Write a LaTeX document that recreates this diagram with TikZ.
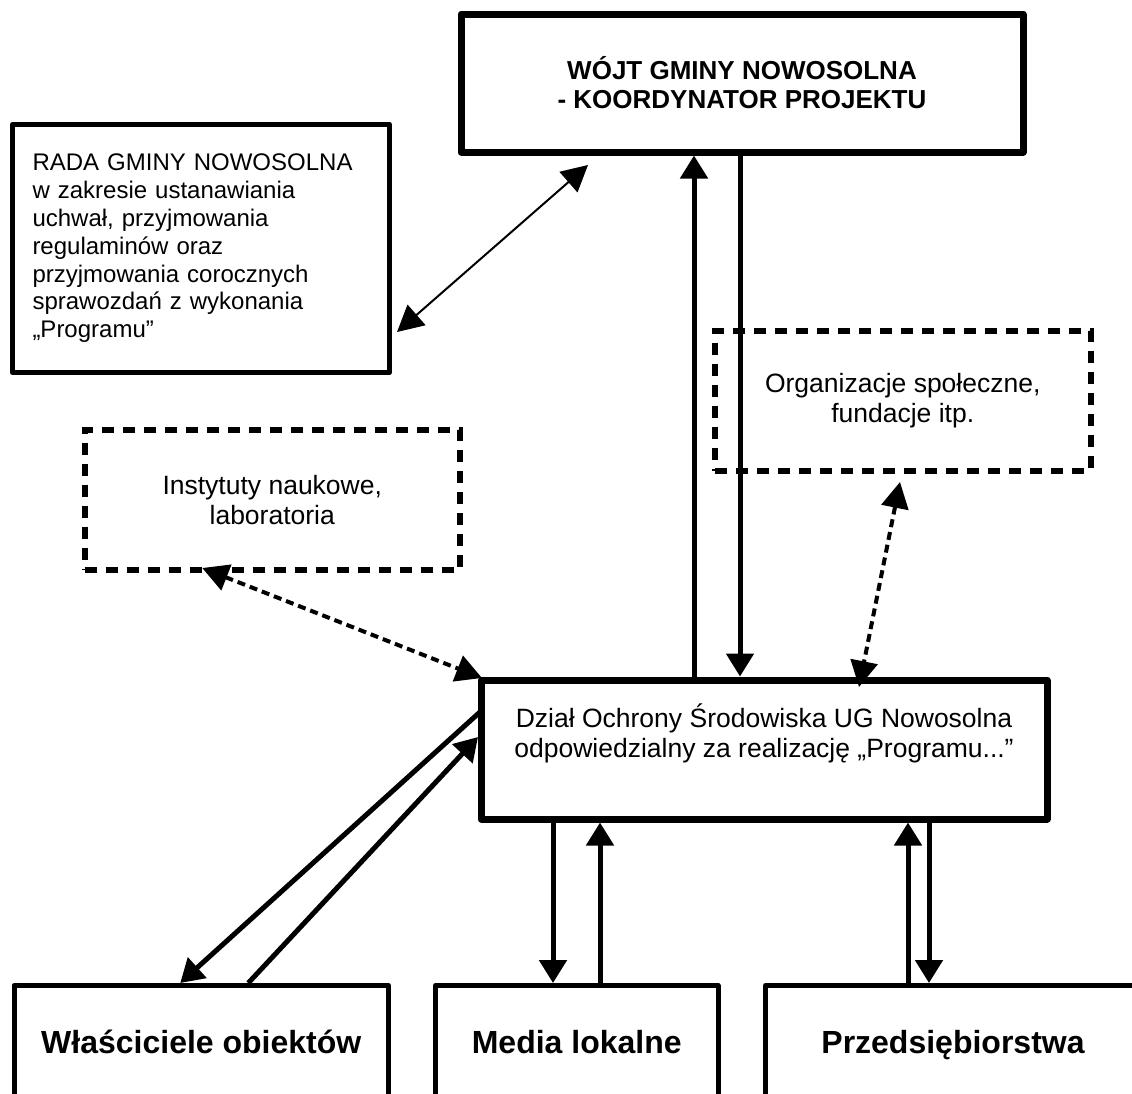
\documentclass[tikz,border=0pt]{standalone}
\usepackage{fontspec}
\setmainfont{Liberation Sans}
\usetikzlibrary{arrows.meta,calc}
\newcommand{\fRada}{\fontsize{24}{27.8}\selectfont}
\newcommand{\fNorm}{\fontsize{26.5}{30}\selectfont}
\newcommand{\fWojt}{\fontsize{26}{29}\selectfont\bfseries}
\newcommand{\fBot}{\fontsize{32}{37}\selectfont\bfseries}
\begin{document}
\begin{tikzpicture}[x=1pt,y=-1pt,
  heavybox/.style={draw, line width=7pt, line join=round, inner sep=0pt, align=center},
  lightbox/.style={draw, line width=5pt, line join=round, inner sep=0pt, align=center},
  dashbox/.style={draw, line width=6pt, dash pattern=on 12pt off 9pt, inner sep=0pt, align=center, font=\fNorm},
  txt/.style={inner sep=0pt, align=center},
  botbox/.style={lightbox, minimum height=120pt, text height=23pt, text depth=7pt, font=\fBot},
  arr/.style={line width=5pt, -{Triangle[length=23pt,width=27pt]}},
  thinarr/.style={line width=2pt, {Triangle[length=26pt,width=27pt]}-{Triangle[length=26pt,width=27pt]}},
  dasharr/.style={line width=4pt, dash pattern=on 8pt off 5pt, {Triangle[length=26pt,width=27pt]}-{Triangle[length=26pt,width=27pt]}}
]
\useasboundingbox (0,0) rectangle (1132,1093);
\clip (0,0) rectangle (1132,1093);
\fill[white] (0,0) rectangle (1132,1093);

% boxes
\node[heavybox, font=\fWojt, minimum width=562pt, minimum height=138pt] (wojt) at (742,83)
  {W\'OJT GMINY NOWOSOLNA\\- KOORDYNATOR PROJEKTU};
\node[lightbox, font=\fRada, align=left, text width=337pt, inner xsep=20pt, minimum height=248pt] (rada) at (201,248.5)
  {RADA GMINY NOWOSOLNA\\w zakresie ustanawiania\\uchwał, przyjmowania\\regulaminów oraz\\przyjmowania corocznych\\sprawozdań z wykonania\\„Programu”};
\node[dashbox, minimum width=375.5pt, minimum height=140pt] (org) at (902.75,400.5)
  {Organizacje społeczne,\\fundacje itp.};
\node[dashbox, minimum width=375.5pt, minimum height=139.5pt] (inst) at (272.25,499.75)
  {Instytuty naukowe,\\laboratoria};
\node[heavybox, minimum width=566pt, minimum height=139pt] (dzial) at (764,749.5) {};
\node[txt, font=\fNorm] (dzialtxt) at (764,733)
  {Dział Ochrony Środowiska UG Nowosolna\\odpowiedzialny za realizację „Programu...”};
\node[botbox, minimum width=374.5pt] (wlas) at (201.25,1045.5) {Właściciele obiektów};
\node[botbox, minimum width=282.5pt] (media) at (576.75,1045.5) {Media lokalne};
\node[botbox, minimum width=375pt] (przed) at (953,1045.5) {Przedsiębiorstwa};

% x positions of vertical connectors
\coordinate (xa) at (694,0);
\coordinate (xb) at (740,0);
\coordinate (xc) at (553,0);
\coordinate (xd) at (600,0);
\coordinate (xe) at (908,0);
\coordinate (xf) at (929,0);

% Wojt <-> Dzial
\draw[arr] (dzial.north -| xa) -- (wojt.south -| xa);
\draw[arr] (wojt.south -| xb) -- (dzial.north -| xb);

% Rada <-> Wojt
\draw[thinarr] ([xshift=5pt,yshift=-83.5pt]rada.east) -- ([xshift=-154pt,yshift=-9.5pt]wojt.south);

% dashed links
\draw[dasharr] ([xshift=-2.75pt,yshift=-8.5pt]org.south) -- ([xshift=95pt,yshift=-10.5pt]dzial.north);
\draw[dasharr] ([xshift=-70pt,yshift=4.5pt]inst.south) -- ([xshift=4.5pt,yshift=-1.5pt]dzial.north west);

% Wlasciciele
\draw[arr] ([xshift=2.5pt,yshift=37.5pt]dzial.west) -- ([xshift=-21pt]wlas.north);
\draw[arr] ([xshift=47pt]wlas.north) -- ([xshift=0.5pt,yshift=12.5pt]dzial.west);

% Media
\draw[arr] (dzial.south -| xc) -- (media.north -| xc);
\draw[arr] (media.north -| xd) -- (dzial.south -| xd);

% Przedsiebiorstwa
\draw[arr] (przed.north -| xe) -- (dzial.south -| xe);
\draw[arr] (dzial.south -| xf) -- (przed.north -| xf);
\end{tikzpicture}
\end{document}
